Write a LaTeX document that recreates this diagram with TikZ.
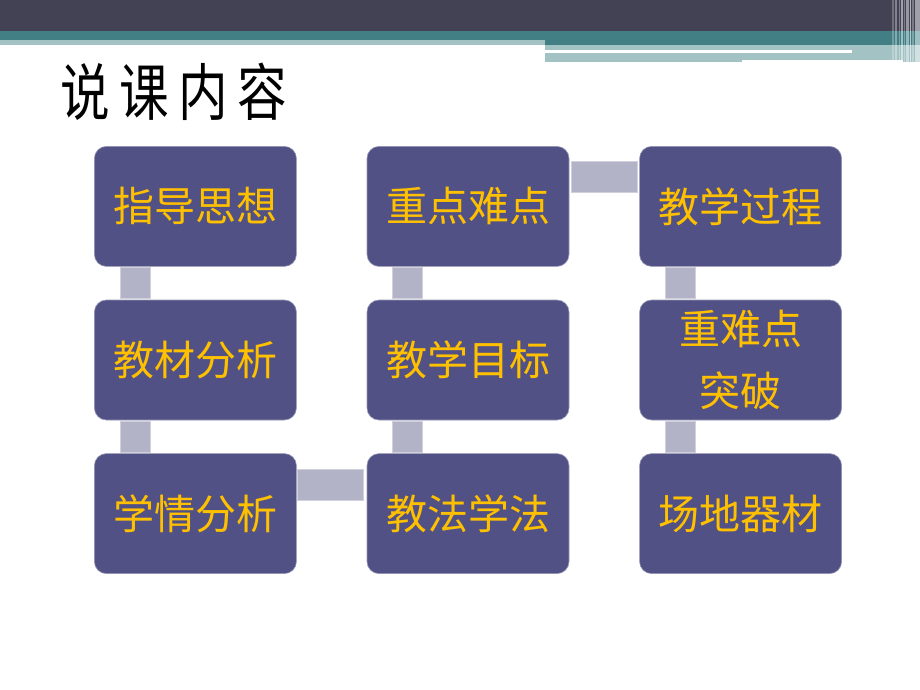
\documentclass[tikz,border=0pt]{standalone}
\usepackage{fontspec}
\newfontfamily\cjk{Noto Sans CJK SC}
\usetikzlibrary{calc}

\definecolor{barDark}{RGB}{66,66,84}
\definecolor{barTeal}{RGB}{65,127,133}
\definecolor{barLight}{RGB}{163,194,195}
\definecolor{boxFill}{RGB}{81,81,134}
\definecolor{boxGold}{RGB}{255,192,0}
\definecolor{linkGray}{RGB}{179,179,199}

\tikzset{
  topic/.style={draw=boxFill!60!white,line width=0.6pt,fill=boxFill,
    rounded corners=12pt,minimum width=202pt,minimum height=120pt,
    inner sep=0pt,text=boxGold,align=center,
    font=\cjk\fontsize{41}{62}\selectfont},
  link/.style={fill=linkGray,draw=linkGray!60!white,line width=0.5pt}
}

\begin{document}
\begin{tikzpicture}[x=1pt,y=-1pt]
\useasboundingbox (0,0) rectangle (920,690);
% header bar
\fill[barDark] (0,0) rectangle (920,31);
\fill[barTeal] (0,31) rectangle (920,40);
\fill[barLight] (0,40) rectangle (545,45);
\fill[barTeal] (545,40) rectangle (920,45.5);
\fill[barLight] (545,45.5) rectangle (920,62);
\fill[white] (545,50) rectangle (852,52.7);
\fill[white] (742,60) rectangle (903,62);
\foreach \x/\w/\o in {892/1.5/0.25,895/2/0.35,899/1/0.3,901/1.5/0.5,904/1/0.3,
                      906/2.5/0.45,910/1/0.6,912/2/0.3,915/5/0.5}
  \fill[white,opacity=\o] (\x,0) rectangle ++(\w,62);

\node[font=\cjk\fontsize{62}{62}\selectfont,anchor=west,inner sep=0pt] (title) at (60,92)
  {\scalebox{0.8}[1]{说\hspace{12pt}课\hspace{12pt}内\hspace{12pt}容}};

\matrix[row sep=33pt,column sep=70pt] at (468,360) {
  \node[topic] (1) {指导思想}; &
  \node[topic] (4) {重点难点}; &
  \node[topic] (7) {教学过程}; \\
  \node[topic] (2) {教材分析}; &
  \node[topic] (5) {教学目标}; &
  \node[topic] (8) {重难点\\突破}; \\
  \node[topic] (3) {学情分析}; &
  \node[topic] (6) {教法学法}; &
  \node[topic] (9) {场地器材}; \\
};

% connectors
\foreach \a/\b in {1/2,2/3,4/5,5/6,7/8,8/9}
  \draw[link] ($(\a.south west)+(26,1)$) rectangle ($(\b.north west)+(56,-1)$);
\draw[link] ($(4.north east)+(2,15)$) rectangle ($(7.north west)+(-2,46)$);
\draw[link] ($(3.north east)+(1,16)$) rectangle ($(6.north west)+(-3,47)$);
\end{tikzpicture}
\end{document}
